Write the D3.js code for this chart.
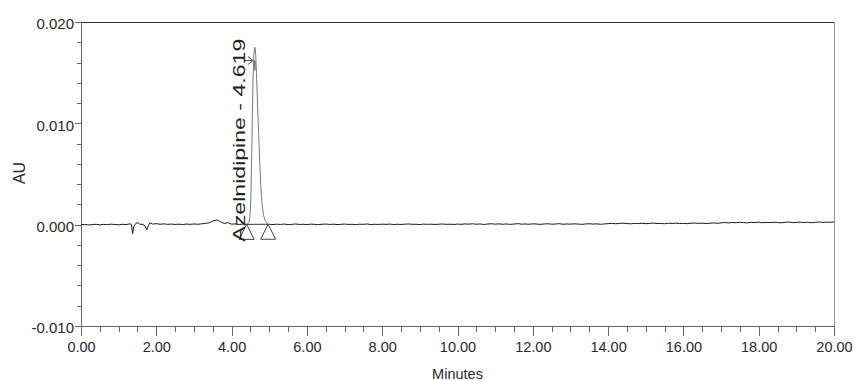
<!DOCTYPE html>
<html>
<head>
<meta charset="utf-8">
<script src="https://cdn.jsdelivr.net/npm/d3@7"></script>
<style>
  html, body { margin: 0; padding: 0; background: #fff; }
  svg { display: block; font-family: Arial, "Liberation Sans", sans-serif; }
</style>
</head>
<body>
<svg id="chart" width="855" height="381"></svg>
<script>
// ---- data ----
const xMajorTicks = [0, 2, 4, 6, 8, 10, 12, 14, 16, 18, 20];
const yMajorTicks = [-0.010, 0.000, 0.010, 0.020];
const xDomain = [0, 20];
const yDomain = [-0.010, 0.020];

const peakName = "Azelnidipine";
const peakRT = 4.619;
const peakStart = 4.40;
const peakEnd = 4.97;
const peakArrowAU = 0.0162;

// chromatogram trace: [minutes, AU]
const traceEarly = [
  [0.0,0.00000],[0.1,0.00002],[0.2,-0.00003],[0.3,0.00001],[0.4,0.00004],[0.5,-0.00002],
  [0.6,0.00003],[0.7,0.00000],[0.8,0.00005],[0.9,0.00002],[1.0,-0.00001],[1.1,0.00004],
  [1.2,0.00001],[1.3,0.00008],[1.34,0.00003],[1.37,-0.00090],[1.40,-0.00020],[1.45,0.00010],
  [1.51,0.00020],[1.56,0.00005],[1.62,0.00003],[1.70,-0.00010],[1.75,-0.00050],[1.79,-0.00010],
  [1.83,0.00018],[1.90,0.00006],[2.0,0.00010],[2.1,0.00004],[2.2,0.00008],[2.3,0.00003],
  [2.4,0.00006],[2.5,0.00002],[2.6,0.00005],[2.7,0.00001],[2.8,0.00006],[2.9,0.00003],
  [3.0,0.00007],[3.1,0.00004],[3.2,0.00008],[3.3,0.00012],[3.4,0.00018],[3.5,0.00035],
  [3.6,0.00047],[3.65,0.00040],[3.7,0.00030],[3.8,0.00012],[3.9,0.00020],[4.0,0.00005],
  [4.1,0.00008],[4.2,0.00002],[4.3,0.00006],[4.40,0.00003]
];
const tracePeak = [
  [4.40,0.00003],[4.46,0.00020],[4.49,0.00080],[4.51,0.00250],[4.53,0.00600],[4.55,0.01050],
  [4.57,0.01450],[4.59,0.01680],[4.619,0.01750],[4.64,0.01680],[4.66,0.01500],[4.69,0.01180],
  [4.72,0.00880],[4.75,0.00600],[4.78,0.00360],[4.81,0.00200],[4.85,0.00090],[4.90,0.00030],
  [4.97,0.00004]
];
const traceLate = [
  [4.97,0.00004],
  [5.0,0.00004],[5.1,0.00001],[5.2,0.00005],[5.3,0.00002],[5.4,0.00006],[5.5,0.00000],[5.6,0.00003],[5.7,0.00007],[5.8,0.00002],[5.9,0.00004],
  [6.0,0.00001],[6.1,0.00005],[6.2,0.00003],[6.3,0.00000],[6.4,0.00004],[6.5,0.00006],[6.6,0.00002],[6.7,0.00005],[6.8,0.00001],[6.9,0.00003],
  [7.0,0.00006],[7.1,0.00002],[7.2,0.00004],[7.3,0.00000],[7.4,0.00005],[7.5,0.00003],[7.6,0.00007],[7.7,0.00001],[7.8,0.00004],[7.9,0.00002],
  [8.0,0.00005],[8.1,0.00003],[8.2,0.00006],[8.3,0.00001],[8.4,0.00004],[8.5,0.00002],[8.6,0.00005],[8.7,0.00007],[8.8,0.00003],[8.9,0.00004],
  [9.0,0.00001],[9.1,0.00006],[9.2,0.00003],[9.3,0.00005],[9.4,0.00002],[9.5,0.00004],[9.6,0.00007],[9.7,0.00003],[9.8,0.00005],[9.9,0.00002],
  [10.0,0.00006],[10.1,0.00003],[10.2,0.00008],[10.3,0.00005],[10.4,0.00009],[10.5,0.00004],[10.6,0.00007],[10.7,0.00002],[10.8,0.00006],[10.9,0.00009],
  [11.0,0.00005],[11.1,0.00008],[11.2,0.00004],[11.3,0.00007],[11.4,0.00003],[11.5,0.00006],[11.6,0.00010],[11.7,0.00005],[11.8,0.00007],[11.9,0.00004],
  [12.0,0.00008],[12.1,0.00006],[12.2,0.00003],[12.3,0.00007],[12.4,0.00009],[12.5,0.00005],[12.6,0.00006],[12.7,0.00010],[12.8,0.00004],[12.9,0.00007],
  [13.0,0.00005],[13.1,0.00008],[13.2,0.00006],[13.3,0.00003],[13.4,0.00007],[13.5,0.00009],[13.6,0.00006],[13.7,0.00008],[13.8,0.00004],[13.9,0.00007],
  [14.0,0.00010],[14.1,0.00013],[14.2,0.00009],[14.3,0.00012],[14.4,0.00015],[14.5,0.00011],[14.6,0.00008],[14.7,0.00013],[14.8,0.00011],[14.9,0.00014],
  [15.0,0.00010],[15.1,0.00012],[15.2,0.00016],[15.3,0.00011],[15.4,0.00013],[15.5,0.00009],[15.6,0.00014],[15.7,0.00012],[15.8,0.00015],[15.9,0.00011],
  [16.0,0.00013],[16.1,0.00010],[16.2,0.00014],[16.3,0.00016],[16.4,0.00012],[16.5,0.00015],[16.6,0.00011],[16.7,0.00014],[16.8,0.00017],[16.9,0.00013],
  [17.0,0.00018],[17.1,0.00021],[17.2,0.00017],[17.3,0.00022],[17.4,0.00019],[17.5,0.00024],[17.6,0.00020],[17.7,0.00018],[17.8,0.00023],[17.9,0.00021],
  [18.0,0.00025],[18.1,0.00019],[18.2,0.00022],[18.3,0.00020],[18.4,0.00024],[18.5,0.00021],[18.6,0.00018],[18.7,0.00023],[18.8,0.00026],[18.9,0.00020],
  [19.0,0.00022],[19.1,0.00025],[19.2,0.00021],[19.3,0.00024],[19.4,0.00019],[19.5,0.00023],[19.6,0.00027],[19.7,0.00022],[19.8,0.00025],[19.9,0.00024],
  [20.0,0.00026]
];

// ---- layout ----
const W = 855, H = 381;
const margin = { left: 81, top: 22, right: 21, bottom: 55 };
const svg = d3.select("#chart");

const x = d3.scaleLinear().domain(xDomain).range([margin.left, W - margin.right]);
const y = d3.scaleLinear().domain(yDomain).range([H - margin.bottom, margin.top]);

const axisColor = "#666";
const textColor = "#2a2a2a";
const hyphenMinus = s => s.replace("\u2212", "-");

// frame: top and right
svg.append("line").attr("x1", x(0)).attr("x2", x(20)).attr("y1", y(0.020)).attr("y2", y(0.020))
  .attr("stroke", "#333").attr("stroke-width", 1).attr("shape-rendering", "crispEdges");
svg.append("line").attr("x1", x(20)).attr("x2", x(20)).attr("y1", y(0.020)).attr("y2", y(-0.010))
  .attr("stroke", "#999").attr("stroke-width", 1).attr("shape-rendering", "crispEdges");

// x axis minor + major ticks
const xMinor = d3.range(0, 20.001, 0.5).filter(v => Math.abs(v % 2) > 1e-9);
const xAxisMinor = svg.append("g").attr("transform", `translate(0,${y(-0.010)})`)
  .call(d3.axisBottom(x).tickValues(xMinor).tickSize(6).tickFormat(""));
const xAxisMajor = svg.append("g").attr("transform", `translate(0,${y(-0.010)})`)
  .call(d3.axisBottom(x).tickValues(xMajorTicks).tickSize(10).tickPadding(6)
    .tickFormat(d => hyphenMinus(d3.format(".2f")(d))));

// y axis minor + major ticks
const yMinor = d3.range(-0.010, 0.0201, 0.002).filter(v => Math.abs(Math.round(v * 1000) % 10) !== 0);
const yAxisMinor = svg.append("g").attr("transform", `translate(${x(0)},0)`)
  .call(d3.axisLeft(y).tickValues(yMinor).tickSize(4).tickFormat(""));
const yAxisMajor = svg.append("g").attr("transform", `translate(${x(0)},0)`)
  .call(d3.axisLeft(y).tickValues(yMajorTicks).tickSize(6).tickPadding(1)
    .tickFormat(d => hyphenMinus(d3.format(".3f")(d))));

[xAxisMinor, xAxisMajor, yAxisMinor, yAxisMajor].forEach(g => {
  g.selectAll("path.domain").attr("stroke", axisColor).attr("shape-rendering", "crispEdges");
  g.selectAll(".tick line").attr("stroke", axisColor).attr("shape-rendering", "crispEdges");
});
xAxisMajor.selectAll("text").attr("fill", textColor).attr("font-size", "14.5px")
  .attr("font-family", "Arial, 'Liberation Sans', sans-serif");
yAxisMajor.selectAll("text").attr("fill", textColor).attr("font-size", "15px")
  .attr("font-family", "Arial, 'Liberation Sans', sans-serif").attr("dy", "0.45em");

// axis titles
svg.append("text").attr("x", (x(0) + x(20)) / 2).attr("y", 379)
  .attr("text-anchor", "middle").attr("font-size", "14.5px").attr("fill", textColor).text("Minutes");
svg.append("text").attr("transform", `translate(25,${(y(0.02) + y(-0.01)) / 2 - 1}) rotate(-90)`)
  .attr("text-anchor", "middle").attr("font-size", "16px").attr("fill", textColor).text("AU");

// trace (baseline parts dark, peak drawn lighter as in the reference)
const line = d3.line().x(d => x(d[0])).y(d => y(d[1]));
[traceEarly, traceLate].forEach(seg => {
  svg.append("path").datum(seg).attr("d", line)
    .attr("fill", "none").attr("stroke", "#1a1a1a").attr("stroke-width", 1).attr("stroke-linejoin", "round");
});
svg.append("path").datum(tracePeak).attr("d", line)
  .attr("fill", "none").attr("stroke", "#7a7a7a").attr("stroke-width", 1).attr("stroke-linejoin", "round");

// integration baseline
const pStart = tracePeak[0], pEnd = tracePeak[tracePeak.length - 1];
svg.append("line").attr("x1", x(peakStart)).attr("y1", y(pStart[1])).attr("x2", x(peakEnd)).attr("y2", y(pEnd[1]))
  .attr("stroke", "#333").attr("stroke-width", 1);

// start / end triangles
[[peakStart, pStart[1]], [peakEnd, pEnd[1]]].forEach(p => {
  const cx = x(p[0]), cy = y(p[1]);
  svg.append("path")
    .attr("d", `M${cx},${cy} L${cx - 7.5},${cy + 15} L${cx + 7.5},${cy + 15} Z`)
    .attr("fill", "none").attr("stroke", "#444").attr("stroke-width", 1);
});

// arrow to apex
const ax = x(peakRT) - 2, ay = y(peakArrowAU);
svg.append("path")
  .attr("d", `M${ax - 9},${ay} L${ax},${ay} M${ax - 5},${ay - 4} L${ax},${ay} L${ax - 5},${ay + 4}`)
  .attr("fill", "none").attr("stroke", "#555").attr("stroke-width", 1);
// darker apex segment
svg.append("line").attr("x1", x(peakRT)).attr("x2", x(peakRT)).attr("y1", ay).attr("y2", ay + 10)
  .attr("stroke", "#333").attr("stroke-width", 1);

// peak label
const lx = x(peakRT) - 10, ly = y(0) + 17;
svg.append("text").attr("transform", `translate(${lx},${ly}) rotate(-90)`)
  .attr("font-size", "16px").attr("fill", "#222")
  .attr("textLength", 203).attr("lengthAdjust", "spacingAndGlyphs")
  .text(`${peakName} - ${peakRT.toFixed(3)}`);
</script>
</body>
</html>
